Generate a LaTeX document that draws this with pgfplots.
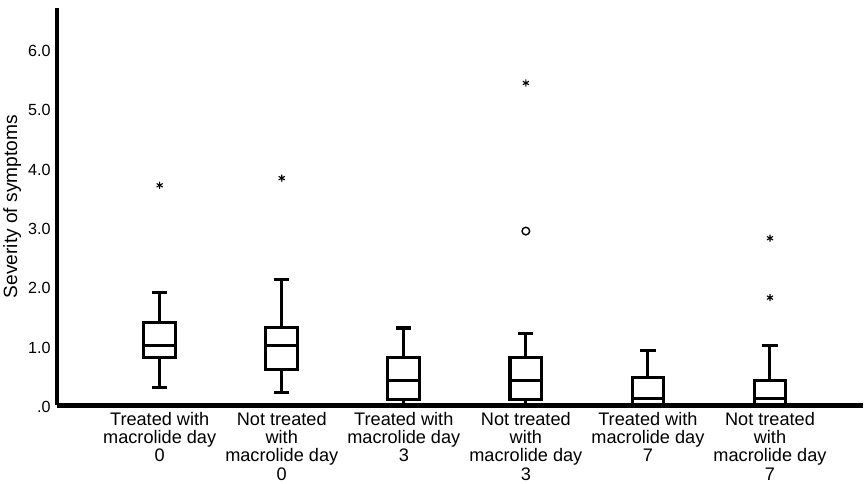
\documentclass[border=0pt]{standalone}
\usepackage{fontspec}
\setmainfont{Liberation Sans}
\usepackage{pgfplots}
\pgfplotsset{compat=1.18}
\usepgfplotslibrary{statistics}
\begin{document}
\begin{tikzpicture}
\begin{axis}[
  scale only axis,
  width=799pt, height=394pt,
  xmin=-0.84, xmax=5.76,
  ymin=0, ymax=6.68,
  clip=false,
  axis lines=left,
  axis line style={-, line width=4.5pt},
  ytick={0,1,2,3,4,5,6},
  yticklabels={.0,1.0,2.0,3.0,4.0,5.0,6.0},
  xtick={0,1,2,3,4,5},
  xticklabels={
    {Treated with\\macrolide day\\0},
    {Not treated\\with\\macrolide day\\0},
    {Treated with\\macrolide day\\3},
    {Not treated\\with\\macrolide day\\3},
    {Treated with\\macrolide day\\7},
    {Not treated\\with\\macrolide day\\7}},
  major tick length=0pt,
  xticklabel style={align=center, font=\fontsize{18}{18.3}\selectfont, anchor=north, yshift=-3pt},
  yticklabel style={font=\fontsize{16}{18}\selectfont, anchor=east, xshift=-3pt, yshift=-2pt},
  ylabel={Severity of symptoms},
  ylabel style={font=\fontsize{19}{21}\selectfont},
  ylabel shift=0pt,
  boxplot/draw direction=y,
]
\addplot[boxplot prepared={draw position=0, lower whisker=0.3, lower quartile=0.8, median=1.0, upper quartile=1.4, upper whisker=1.9, box extend=0.26, whisker extend=0.125}, black, line width=3pt] coordinates {};
\addplot[boxplot prepared={draw position=1, lower whisker=0.21, lower quartile=0.61, median=1.0, upper quartile=1.31, upper whisker=2.11, box extend=0.26, whisker extend=0.125}, black, line width=3pt] coordinates {};
\addplot[boxplot prepared={draw position=2, lower whisker=0, lower quartile=0.1, median=0.42, upper quartile=0.81, upper whisker=1.3, box extend=0.26, whisker extend=0.125}, black, line width=3pt] coordinates {};
\addplot[boxplot prepared={draw position=3, lower whisker=0, lower quartile=0.1, median=0.42, upper quartile=0.81, upper whisker=1.21, box extend=0.26, whisker extend=0.125}, black, line width=3pt] coordinates {};
\addplot[boxplot prepared={draw position=4, lower whisker=0, lower quartile=0, median=0.12, upper quartile=0.46, upper whisker=0.92, box extend=0.26, whisker extend=0.125}, black, line width=3pt] coordinates {};
\addplot[boxplot prepared={draw position=5, lower whisker=0, lower quartile=0, median=0.12, upper quartile=0.41, upper whisker=1.0, box extend=0.26, whisker extend=0.125}, black, line width=3pt] coordinates {};
% extreme outliers
\addplot[only marks, mark=asterisk, mark size=3.5pt, line width=1.1pt, black] coordinates {(0,3.7) (1,3.82) (3,5.42) (5,2.81) (5,1.81)};
% outlier
\addplot[only marks, mark=o, mark size=3.8pt, line width=1.4pt, black] coordinates {(3,2.93)};
\end{axis}
\path ([yshift=8pt]current axis.north);
\end{tikzpicture}
\end{document}
